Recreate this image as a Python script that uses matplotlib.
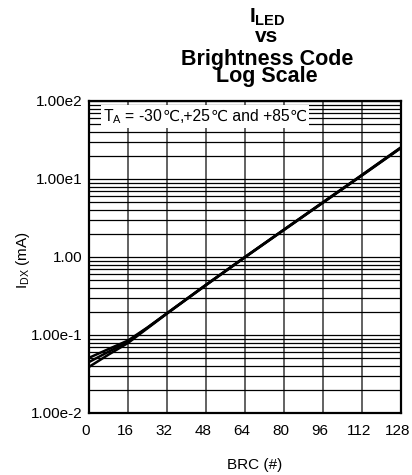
import matplotlib
matplotlib.use("Agg")
import matplotlib.pyplot as plt
import matplotlib.transforms as mtransforms
from matplotlib.offsetbox import TextArea, HPacker, AnchoredOffsetbox
import numpy as np

plt.rcParams['font.family'] = ['Liberation Sans', 'DejaVu Sans']
plt.rcParams['mathtext.fontset'] = 'custom'
plt.rcParams['mathtext.rm'] = 'Liberation Sans'
plt.rcParams['mathtext.it'] = 'Liberation Sans:italic'
plt.rcParams['mathtext.bf'] = 'Liberation Sans:bold'

# brightness code vs LED current (mA), three temperatures
brc = [0, 8, 16, 24, 32, 48, 64, 80, 96, 112, 128]
i_m30 = [0.051, 0.066, 0.085, 0.125, 0.19, 0.44, 1.0, 2.25, 5.05, 11.3, 25.5]
i_p25 = [0.045, 0.061, 0.082, 0.124, 0.19, 0.44, 1.0, 2.24, 5.0, 11.2, 25.2]
i_p85 = [0.039, 0.056, 0.079, 0.122, 0.188, 0.435, 0.99, 2.22, 4.97, 11.1, 25.0]

x_ticks = [0, 16, 32, 48, 64, 80, 96, 112, 128]
y_ticks = [1e-2, 1e-1, 1, 1e1, 1e2]
y_labels = ["1.00e-2", "1.00e-1", "1.00", "1.00e1", "1.00e2"]

fig = plt.figure(figsize=(4.12, 4.75), dpi=100)
ax = fig.add_axes([89/412, 62/475, 312/412, 312/475])

for s in (i_m30, i_p25, i_p85):
    ax.plot(brc, s, color="black", lw=1.8, zorder=3)

ax.set_yscale("log")
ax.set_xlim(0, 128)
ax.set_ylim(1e-2, 1e2)
ax.set_xticks(x_ticks)
ax.set_yticks(y_ticks)
ax.set_yticklabels(y_labels)
ax.yaxis.set_minor_locator(matplotlib.ticker.LogLocator(base=10, subs=np.arange(2, 10)))
ax.yaxis.set_minor_formatter(matplotlib.ticker.NullFormatter())
ax.tick_params(which="both", length=0, labelsize=11, pad=4.5)
ax.tick_params(axis="x", pad=8)

# x tick labels sit a little left of their ticks in the original
shift = mtransforms.ScaledTranslation(-3/100, 0, fig.dpi_scale_trans)
for lab in ax.get_xticklabels():
    lab.set_transform(lab.get_transform() + shift)

ax.grid(True, which="both", axis="y", color="black", lw=0.9)
ax.grid(True, which="major", axis="x", color="#555555", lw=1.3)
for sp in ax.spines.values():
    sp.set_linewidth(1.6)

ax.set_xlabel("BRC (#)", fontsize=11)
ax.xaxis.set_label_coords(0.532, -0.144)
ax.set_ylabel(r"$\mathrm{I_{DX}}$ (mA)", fontsize=11)
ax.yaxis.set_label_coords(-0.183, 0.49)

# temperature note, the degree sign comes from DejaVu Sans
ls = dict(fontsize=11.3, family="Liberation Sans")
dv = dict(fontsize=11, family="DejaVu Sans")
parts = [TextArea(r"$\mathrm{T_A}$ = -30", textprops=ls), TextArea("℃", textprops=dv),
         TextArea(",+25", textprops=ls), TextArea("℃", textprops=dv),
         TextArea(" and +85", textprops=ls), TextArea("℃", textprops=dv)]
row = HPacker(children=parts, align="baseline", pad=0, sep=0)
note = AnchoredOffsetbox(loc="lower left", child=row, pad=0.15, borderpad=0, frameon=True,
                         bbox_to_anchor=(0.038, 0.913), bbox_transform=ax.transAxes,
                         prop=dict(size=11))
note.patch.set_facecolor("white")
note.patch.set_edgecolor("none")
note.set_zorder(4)
ax.add_artist(note)

# title lines
cx = 267/412
fig.text(cx, 1 - 22.5/475, r"$\mathbf{I}_{\mathbf{LED}}$", ha="center", va="baseline", fontsize=15)
fig.text(cx, 1 - 42/475, "vs", ha="center", va="baseline", fontsize=15, fontweight="bold")
fig.text(cx, 1 - 65/475, "Brightness Code", ha="center", va="baseline", fontsize=15.5, fontweight="bold")
fig.text(cx, 1 - 82/475, "Log Scale", ha="center", va="baseline", fontsize=15.5, fontweight="bold")

fig.savefig("out.png", dpi=100)
